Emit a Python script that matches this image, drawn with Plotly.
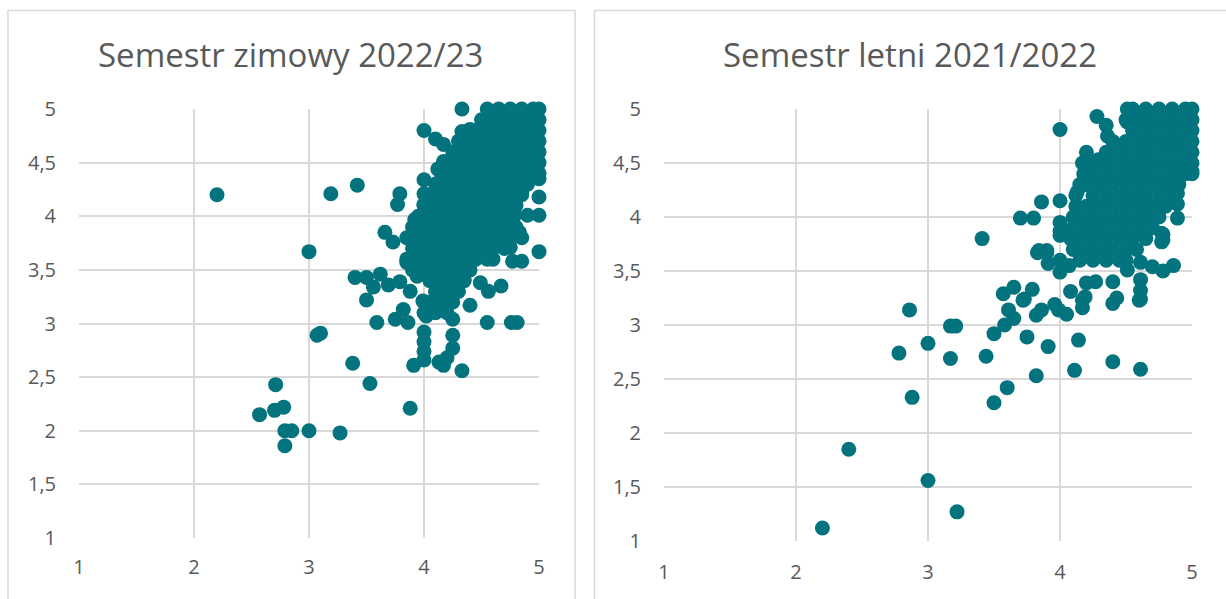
import plotly.graph_objects as go

# ---- data: Semestr zimowy 2022/23 (left) ----
winter_x = [
    # scattered points
    2.2, 3.0, 3.07, 3.1, 3.19, 3.42, 3.38, 3.53, 3.27, 3.0, 2.79, 2.85, 2.79, 2.57, 2.7, 2.78, 2.71, 3.88,
    3.59, 3.4, 3.5, 3.62, 3.56, 3.5, 3.69, 3.79, 3.88, 3.85, 3.94, 3.75, 3.86, 3.82, 3.99, 4.02,
    4.0, 4.0, 4.0, 3.91, 4.0, 4.25, 4.25, 4.25, 4.2, 4.13, 4.17, 4.33, 4.55, 4.76, 4.81, 4.4,
    4.56, 4.67, 4.49, 4.6, 4.75, 4.85, 4.77, 4.83, 3.66, 3.73, 3.85, 3.97,
    4.33, 4.0, 4.1, 4.17, 4.33, 4.4, 4.31, 3.79, 3.77, 4.0, 4.0, 4.0, 4.17, 4.12, 3.92,
    5.0, 5.0, 5.0, 4.9, 4.79, 5.0, 4.85,
    # dense cluster
    4.55, 4.65, 4.75, 4.85, 4.95, 5.0,
    4.5, 4.6, 4.7, 4.8, 4.9, 5.0,
    4.45, 4.55, 4.65, 4.75, 4.85, 4.95, 5.0,
    4.3, 4.4, 4.5, 4.6, 4.7, 4.8, 4.9, 5.0,
    4.25, 4.35, 4.45, 4.55, 4.65, 4.75, 4.85, 4.95, 5.0,
    4.2, 4.3, 4.4, 4.5, 4.6, 4.7, 4.8, 4.9, 5.0,
    4.15, 4.25, 4.35, 4.45, 4.55, 4.65, 4.75, 4.85, 4.95, 5.0,
    4.1, 4.2, 4.3, 4.4, 4.5, 4.6, 4.7, 4.8, 4.9,
    4.05, 4.15, 4.25, 4.35, 4.45, 4.55, 4.65, 4.75, 4.85,
    4.0, 4.1, 4.2, 4.3, 4.4, 4.5, 4.6, 4.7, 4.8,
    3.95, 4.05, 4.15, 4.25, 4.35, 4.45, 4.55, 4.65, 4.75,
    3.9, 4.0, 4.1, 4.2, 4.3, 4.4, 4.5, 4.6, 4.7, 4.8,
    3.95, 4.05, 4.15, 4.25, 4.35, 4.45, 4.55, 4.65, 4.75, 4.85,
    3.9, 4.0, 4.1, 4.2, 4.3, 4.4, 4.5, 4.6, 4.7,
    3.85, 3.95, 4.05, 4.15, 4.25, 4.35, 4.45, 4.55,
    3.9, 4.0, 4.1, 4.2, 4.3, 4.4,
    4.05, 4.15, 4.25, 4.35,
    4.1, 4.2, 4.3,
    4.05, 4.15, 4.25,
    4.0, 4.1, 4.2,
]
winter_y = [
    4.2, 3.67, 2.89, 2.91, 4.21, 4.29, 2.63, 2.44, 1.98, 2.0, 2.0, 2.0, 1.86, 2.15, 2.19, 2.22, 2.43, 2.21,
    3.01, 3.43, 3.43, 3.46, 3.34, 3.22, 3.36, 3.39, 3.3, 3.57, 3.44, 3.04, 3.01, 3.13, 3.21, 3.07,
    2.92, 2.83, 2.74, 2.61, 2.66, 3.04, 2.89, 2.77, 2.68, 2.64, 2.61, 2.56, 3.01, 3.01, 3.01, 3.17,
    3.3, 3.35, 3.38, 3.6, 3.71, 3.58, 3.58, 3.85, 3.85, 3.76, 3.8, 3.83,
    5.0, 4.8, 4.72, 4.67, 4.79, 4.81, 4.65, 4.21, 4.11, 4.34, 4.21, 4.11, 4.51, 4.44, 3.97,
    4.35, 4.18, 4.01, 4.01, 4.01, 3.67, 4.22,
    5.0, 5.0, 5.0, 5.0, 5.0, 5.0,
    4.9, 4.9, 4.9, 4.9, 4.9, 4.9,
    4.8, 4.8, 4.8, 4.8, 4.8, 4.8, 4.8,
    4.7, 4.7, 4.7, 4.7, 4.7, 4.7, 4.7, 4.7,
    4.6, 4.6, 4.6, 4.6, 4.6, 4.6, 4.6, 4.6, 4.6,
    4.5, 4.5, 4.5, 4.5, 4.5, 4.5, 4.5, 4.5, 4.5,
    4.4, 4.4, 4.4, 4.4, 4.4, 4.4, 4.4, 4.4, 4.4, 4.4,
    4.3, 4.3, 4.3, 4.3, 4.3, 4.3, 4.3, 4.3, 4.3,
    4.2, 4.2, 4.2, 4.2, 4.2, 4.2, 4.2, 4.2, 4.2,
    4.1, 4.1, 4.1, 4.1, 4.1, 4.1, 4.1, 4.1, 4.1,
    4.0, 4.0, 4.0, 4.0, 4.0, 4.0, 4.0, 4.0, 4.0,
    3.9, 3.9, 3.9, 3.9, 3.9, 3.9, 3.9, 3.9, 3.9, 3.9,
    3.8, 3.8, 3.8, 3.8, 3.8, 3.8, 3.8, 3.8, 3.8, 3.8,
    3.7, 3.7, 3.7, 3.7, 3.7, 3.7, 3.7, 3.7, 3.7,
    3.6, 3.6, 3.6, 3.6, 3.6, 3.6, 3.6, 3.6,
    3.5, 3.5, 3.5, 3.5, 3.5, 3.5,
    3.4, 3.4, 3.4, 3.4,
    3.3, 3.3, 3.3,
    3.2, 3.2, 3.2,
    3.1, 3.1, 3.1,
]

# ---- data: Semestr letni 2021/2022 (right) ----
summer_x = [
    # scattered points
    2.2, 2.4, 3.0, 3.22, 2.88, 2.78, 2.86, 3.0, 3.17, 3.17, 3.21, 3.44, 3.5, 3.6, 3.5, 3.58,
    3.61, 3.65, 3.75, 3.82, 3.91, 3.82, 3.86, 4.14, 4.11, 4.4, 4.61, 4.05, 3.99, 4.17, 4.4, 4.6,
    3.72, 3.57, 3.65, 3.73, 3.79, 3.96, 4.08, 4.17, 4.43, 4.61, 4.61, 4.61, 4.19,
    3.41, 4.0, 3.83, 3.9, 3.91, 4.0, 4.0, 4.07, 4.2, 4.27, 4.4, 4.51, 4.61, 4.7, 4.78, 4.86,
    4.78, 4.78, 4.0, 4.28, 4.35, 4.36, 4.51, 4.51, 4.2, 4.4, 4.17, 4.29, 4.0, 3.86, 3.7, 3.8,
    4.89, 4.89, 4.89, 5.0, 4.77, 4.77, 4.13, 4.0, 4.0, 3.84, 3.9,
    # dense cluster
    4.55, 4.65, 4.75, 4.85, 4.95, 5.0,
    4.5, 4.6, 4.7, 4.8, 4.9, 5.0,
    4.55, 4.65, 4.75, 4.85, 4.95, 5.0,
    4.4, 4.5, 4.6, 4.7, 4.8, 4.9, 5.0,
    4.35, 4.45, 4.55, 4.65, 4.75, 4.85, 4.95, 5.0,
    4.22, 4.3, 4.4, 4.5, 4.6, 4.7, 4.8, 4.9, 5.0,
    4.18, 4.25, 4.35, 4.45, 4.55, 4.65, 4.75, 4.85, 4.95, 5.0,
    4.15, 4.2, 4.3, 4.4, 4.5, 4.6, 4.7, 4.8, 4.9,
    4.12, 4.25, 4.35, 4.45, 4.55, 4.65, 4.75, 4.85,
    4.12, 4.2, 4.3, 4.4, 4.5, 4.6, 4.7, 4.8,
    4.1, 4.15, 4.25, 4.35, 4.45, 4.55, 4.65, 4.75,
    4.1, 4.2, 4.3, 4.4, 4.5, 4.6, 4.7,
    4.08, 4.15, 4.25, 4.35, 4.45, 4.55, 4.65,
    4.1, 4.2, 4.3, 4.4, 4.5, 4.58,
    4.15, 4.25, 4.35, 4.45, 4.5,
]
summer_y = [
    1.12, 1.85, 1.56, 1.27, 2.33, 2.74, 3.14, 2.83, 2.69, 2.99, 2.99, 2.71, 2.28, 2.42, 2.92, 3.0,
    3.14, 3.06, 2.89, 2.53, 2.8, 3.09, 3.14, 2.86, 2.58, 2.66, 2.59, 3.1, 3.14, 3.16, 3.2, 3.23,
    3.23, 3.29, 3.35, 3.24, 3.33, 3.19, 3.31, 3.23, 3.25, 3.32, 3.42, 3.24, 3.26,
    3.8, 3.83, 3.67, 3.67, 3.57, 3.6, 3.49, 3.55, 3.39, 3.4, 3.4, 3.51, 3.58, 3.54, 3.5, 3.55,
    3.79, 3.84, 4.81, 4.93, 4.85, 4.75, 5.0, 4.88, 4.6, 4.62, 4.5, 4.53, 4.15, 4.14, 3.99, 3.99,
    4.22, 4.12, 3.99, 4.42, 3.85, 3.77, 4.23, 3.95, 3.87, 3.69, 3.69,
    5.0, 5.0, 5.0, 5.0, 5.0, 5.0,
    4.9, 4.9, 4.9, 4.9, 4.9, 4.9,
    4.8, 4.8, 4.8, 4.8, 4.8, 4.8,
    4.7, 4.7, 4.7, 4.7, 4.7, 4.7, 4.7,
    4.6, 4.6, 4.6, 4.6, 4.6, 4.6, 4.6, 4.6,
    4.5, 4.5, 4.5, 4.5, 4.5, 4.5, 4.5, 4.5, 4.5,
    4.4, 4.4, 4.4, 4.4, 4.4, 4.4, 4.4, 4.4, 4.4, 4.4,
    4.3, 4.3, 4.3, 4.3, 4.3, 4.3, 4.3, 4.3, 4.3,
    4.2, 4.2, 4.2, 4.2, 4.2, 4.2, 4.2, 4.2,
    4.1, 4.1, 4.1, 4.1, 4.1, 4.1, 4.1, 4.1,
    4.0, 4.0, 4.0, 4.0, 4.0, 4.0, 4.0, 4.0,
    3.9, 3.9, 3.9, 3.9, 3.9, 3.9, 3.9,
    3.8, 3.8, 3.8, 3.8, 3.8, 3.8, 3.8,
    3.7, 3.7, 3.7, 3.7, 3.7, 3.7,
    3.6, 3.6, 3.6, 3.6, 3.6,
]

titles = ["Semestr zimowy 2022/23", "Semestr letni 2021/2022"]
tick_vals = [1, 1.5, 2, 2.5, 3, 3.5, 4, 4.5, 5]
x_ticks = [1, 2, 3, 4, 5]

W, H = 1226, 599
teal = "#03737D"
grey_text = "#595959"
grid = "#d9d9d9"

fig = go.Figure()
fig.add_trace(go.Scatter(x=winter_x, y=winter_y, mode="markers",
                         marker=dict(size=15, color=teal), cliponaxis=False,
                         xaxis="x", yaxis="y", showlegend=False))
fig.add_trace(go.Scatter(x=summer_x, y=summer_y, mode="markers",
                         marker=dict(size=15, color=teal), cliponaxis=False,
                         xaxis="x2", yaxis="y2", showlegend=False))

def px(v):
    return v / W

def py(v):
    return 1 - v / H

axis_common = dict(range=[1, 5], showgrid=True, gridcolor=grid, gridwidth=2,
                   zeroline=False, showline=False, ticks="", automargin=False,
                   tickfont=dict(family="Open Sans", size=20, color=grey_text))

fig.update_layout(
    template="none",
    width=W, height=H,
    margin=dict(l=0, r=0, t=0, b=0, autoexpand=False),
    paper_bgcolor="white", plot_bgcolor="white",
    separators=", ",
    xaxis=dict(axis_common, domain=[px(79), px(539)], anchor="y",
               tickvals=x_ticks, ticklabelstandoff=15),
    yaxis=dict(axis_common, domain=[py(538), py(109)], anchor="x",
               tickvals=tick_vals, ticklabelstandoff=22),
    xaxis2=dict(axis_common, domain=[px(664), px(1192)], anchor="y2",
                tickvals=x_ticks, ticklabelstandoff=17),
    yaxis2=dict(axis_common, domain=[py(541), py(109)], anchor="x2",
                tickvals=tick_vals, ticklabelstandoff=22),
)

# chart frames
fig.add_shape(type="rect", xref="paper", yref="paper",
              x0=px(8), x1=px(575), y0=py(620), y1=py(10.5),
              line=dict(color=grid, width=1.5), layer="below")
fig.add_shape(type="rect", xref="paper", yref="paper",
              x0=px(594.5), x1=px(1250), y0=py(620), y1=py(10.5),
              line=dict(color=grid, width=1.5), layer="below")

# chart titles
for cx, text in zip([290, 910], titles):
    fig.add_annotation(x=px(cx), y=py(55), xref="paper", yref="paper",
                       text=text, showarrow=False, xanchor="center", yanchor="middle",
                       font=dict(family="Open Sans", size=33, color=grey_text))

fig.write_html("out.html", config={"displayModeBar": False},
               post_script="document.documentElement.style.margin='0';document.body.style.margin='0';document.body.style.overflow='hidden';")
